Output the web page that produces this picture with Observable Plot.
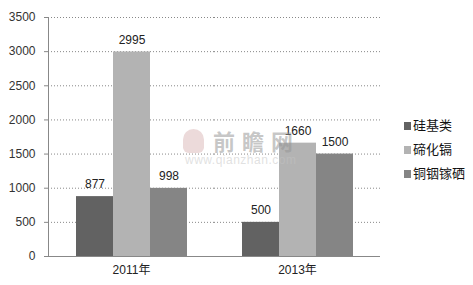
<!DOCTYPE html>
<html>
<head>
<meta charset="utf-8">
<script src="https://cdn.jsdelivr.net/npm/d3@7"></script>
<script src="https://cdn.jsdelivr.net/npm/@observablehq/plot@0.6"></script>
<style>
  html, body { margin: 0; padding: 0; background: #fff; }
  #wrap { position: relative; width: 473px; height: 285px; overflow: hidden; }
  #legend { position: absolute; left: 404px; top: 112px; font-family: "Noto Sans CJK SC", sans-serif; font-size: 13px; color: #111; }
  .row { display: flex; align-items: center; height: 24px; }
  .sw { width: 7px; height: 8px; margin-right: 2px; margin-top: 4px; }
  #wm { position: absolute; left: 183px; top: 131px; pointer-events: none; }
  #wm .cn { font-family: "Noto Sans CJK SC", sans-serif; font-weight: bold; font-size: 22px; line-height: 22px; color: rgba(150,150,150,0.55); letter-spacing: 7px; position: absolute; left: 30px; top: -2px; white-space: nowrap; }
  #wm .en { font-family: "Liberation Sans", Arial, sans-serif; font-size: 12px; line-height: 12px; color: rgba(195,195,195,0.5); position: absolute; left: 2px; top: 23px; white-space: nowrap; letter-spacing: 0.5px; }
  #wm .logo { position: absolute; left: 0; top: -2px; width: 21px; height: 24px; border-radius: 11px 11px 6px 6px; background: rgba(200,150,150,0.35); }
</style>
</head>
<body>
<div id="wrap"></div>
<script>
const years = ["2011年", "2013年"];
const series = ["硅基类", "碲化镉", "铜铟镓硒"];
const values2011 = [877, 2995, 998];
const values2013 = [500, 1660, 1500];
const colors = ["#626262", "#b3b3b3", "#858585"];
const yTicks = [0, 500, 1000, 1500, 2000, 2500, 3000, 3500];

const valuesByYear = [values2011, values2013];
const data = years.flatMap((yr, i) => series.map((s, j) => ({year: yr, series: s, value: valuesByYear[i][j]})));

const chart = Plot.plot({
  width: 473,
  height: 285,
  marginLeft: 48,
  marginRight: 93,
  marginTop: 17,
  marginBottom: 29,
  style: {fontFamily: "'Liberation Sans', 'Noto Sans CJK SC', Arial, sans-serif", fontSize: "12px", color: "#333", background: "white"},
  fx: {domain: years, padding: 0, label: null, axis: null},
  x: {domain: series, paddingInner: 0, paddingOuter: 0.743, axis: null},
  y: {domain: [0, 3500], label: null},
  color: {domain: series, range: colors},
  marks: [
    Plot.gridY(yTicks.filter(v => v > 0), {stroke: "#888", strokeOpacity: 1, strokeDasharray: "1,2"}),
    Plot.barY(data, {fx: "year", x: "series", y: "value", fill: "series"}),
    Plot.text(data, {fx: "year", x: "series", y: "value", text: d => String(d.value), dy: -12, fill: "#222", fontSize: 12}),
    Plot.ruleY([0], {stroke: "#888"}),
    Plot.frame({anchor: "left", stroke: "#888", facetAnchor: "left"}),
    Plot.axisY(yTicks, {tickSize: 4, tickPadding: 9, stroke: "#888", fill: "#333", label: null, fontSize: 12, tickFormat: d => String(d)}),
    Plot.axisFx({anchor: "bottom", tickSize: 0, tickPadding: 9, label: null, fontSize: 12, fill: "#222"})
  ]
});

const wrap = document.getElementById("wrap");
wrap.appendChild(chart);

const wm = document.createElement("div");
wm.id = "wm";
wm.innerHTML = '<div class="logo"></div><div class="cn">前瞻网</div><div class="en">www.qianzhan.com</div>';
wrap.appendChild(wm);

const legend = document.createElement("div");
legend.id = "legend";
series.forEach((s, i) => {
  const row = document.createElement("div");
  row.className = "row";
  const sw = document.createElement("div");
  sw.className = "sw";
  sw.style.background = colors[i];
  const t = document.createElement("span");
  t.textContent = s;
  row.appendChild(sw);
  row.appendChild(t);
  legend.appendChild(row);
});
wrap.appendChild(legend);
</script>
</body>
</html>
